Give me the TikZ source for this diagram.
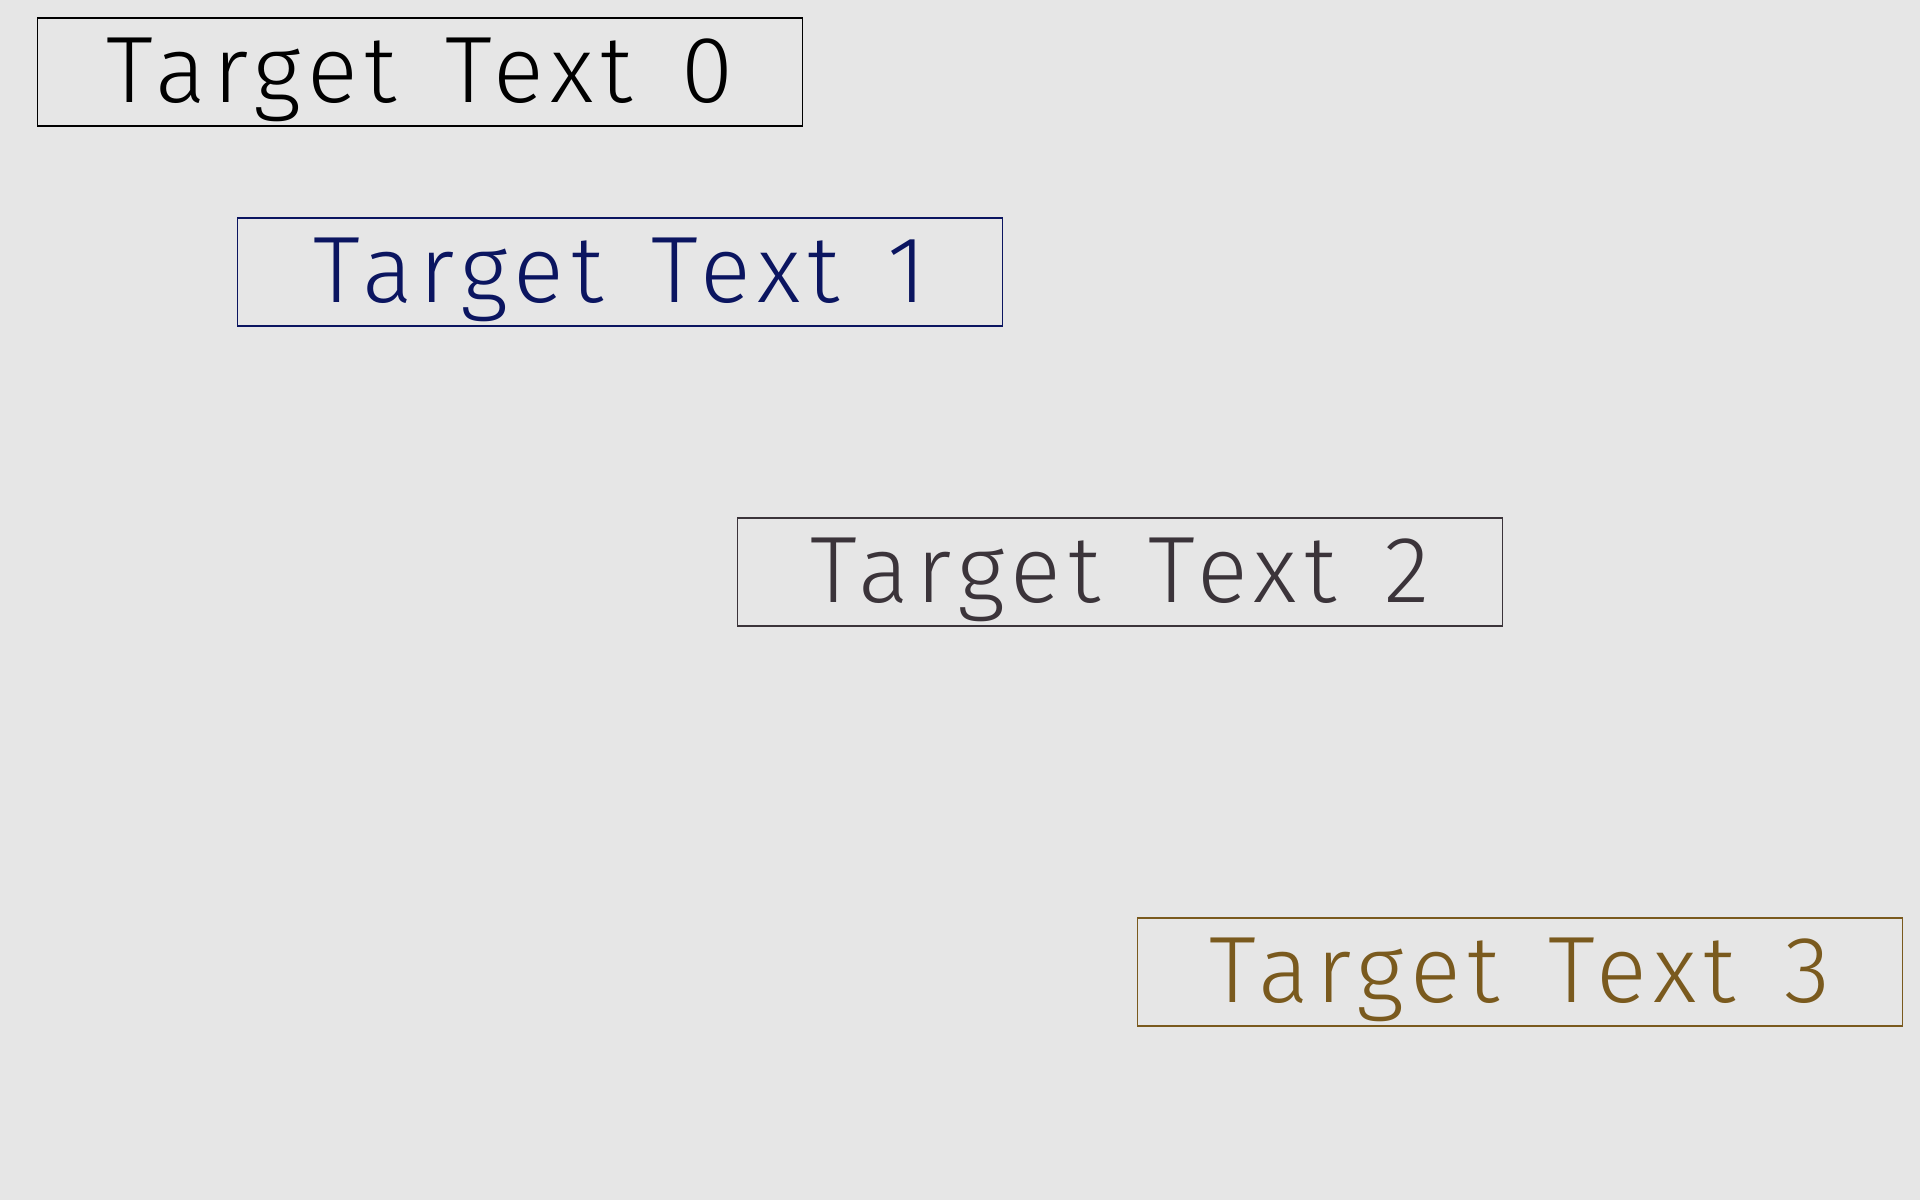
\documentclass[tikz,border=0pt]{standalone}
\usepackage{fontspec}
\setmainfont{Fira Sans Light}
\newfontfamily\rotulo{Fira Sans Light}[LetterSpace=7.5, WordSpace=1.45]
\definecolor{fondo}{HTML}{E6E6E6}
\definecolor{azul}{HTML}{0B1560}
\definecolor{gris}{HTML}{3B343A}
\definecolor{marron}{HTML}{7A5A1E}
\begin{document}
\begin{tikzpicture}[x=0.01cm, y=-0.01cm]

% Fondo
\fill[fondo] (0,0) rectangle (1920,1200);
\useasboundingbox (0,0) rectangle (1920,1200);

% Nodos Texto
\begin{scope}[
		every node/.style = {shape = rectangle, draw, line width = .4pt,
		inner sep = 0pt, minimum width = 7.64cm, minimum height = 1.08cm,
		text height = 8.4mm, text depth = 2.4mm,
		font = \rotulo\fontsize{26.8}{30}\selectfont}]
	\node[draw = black, text = black] (T0) at (420,72) {Target Text 0};
	\node[draw = azul, text = azul] (T1) at (620,272) {Target Text 1};
	\node[draw = gris, text = gris] (T2) at (1120,572) {Target Text 2};
	\node[draw = marron, text = marron] (T3) at (1520,972) {Target Text 3};
\end{scope}
\end{tikzpicture}
\end{document}
